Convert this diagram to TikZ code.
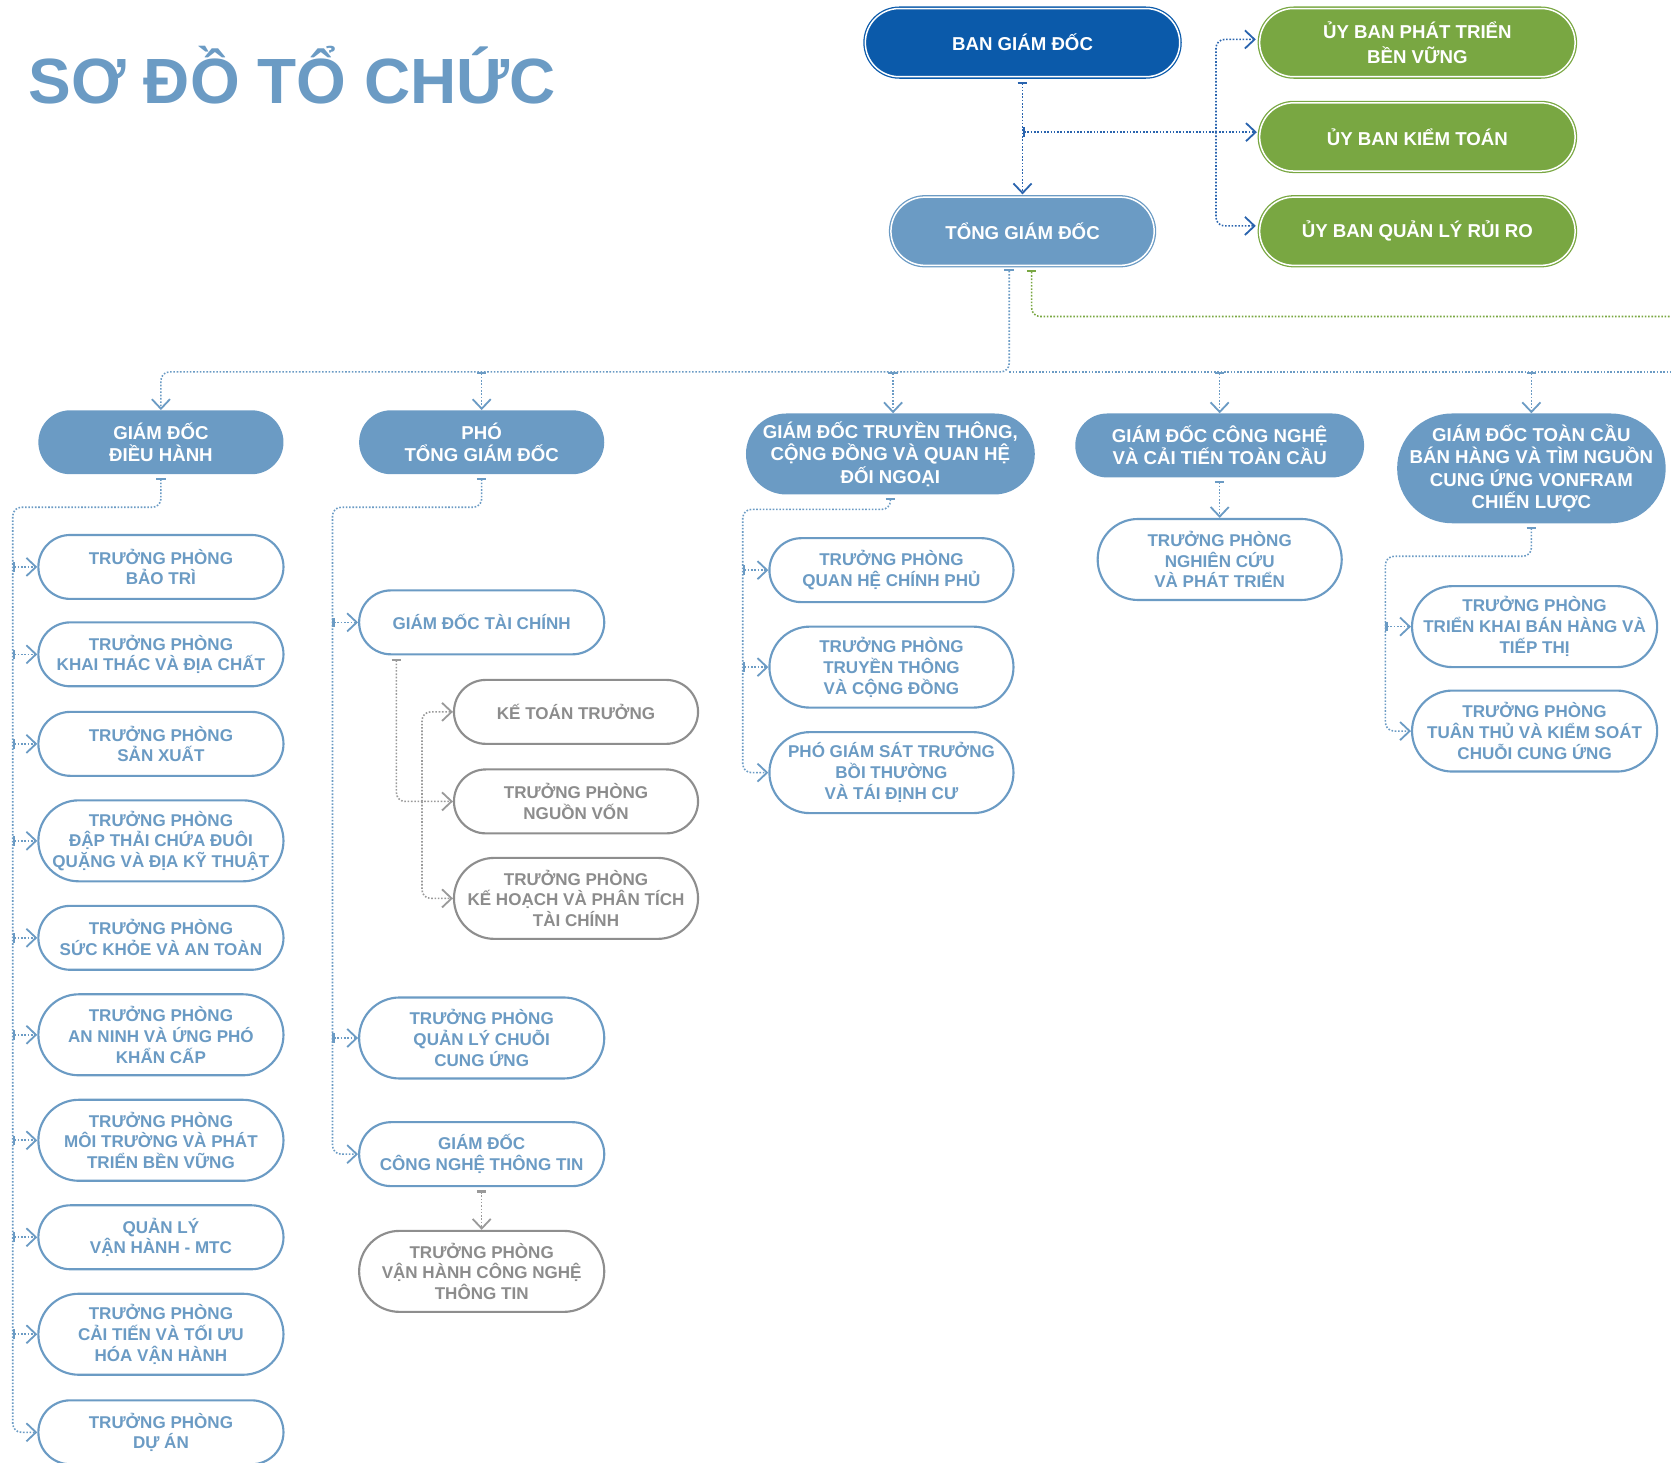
\documentclass[tikz,border=0pt]{standalone}
\usepackage{fontspec}
\setmainfont{Liberation Sans}
\usetikzlibrary{arrows.meta}
\definecolor{dblue}{HTML}{0B5AAA}
\definecolor{lblue}{HTML}{6B9BC4}
\definecolor{gfill}{HTML}{79A742}
\definecolor{gbox}{HTML}{8E8E8E}
\definecolor{gtext}{HTML}{8C8C8C}
\definecolor{cblue}{HTML}{2A64AE}
\definecolor{cgray}{HTML}{9A9A9A}
\newcommand\fbig{\fontsize{17.5}{21}\selectfont\bfseries}
\newcommand\fbigw{\fontsize{17.5}{24}\selectfont\bfseries}
\newcommand\fsmall{\fontsize{16}{19.5}\selectfont\bfseries}
\tikzset{
  base/.style={rectangle, inner sep=0pt, align=center},
  h60/.style={minimum height=60pt, rounded corners=29.9pt},
  h64/.style={minimum height=64pt, rounded corners=31.9pt},
  h76/.style={minimum height=76pt, rounded corners=37.9pt},
  h103/.style={minimum height=103pt, rounded corners=51.4pt},
  topbox/.style={base, draw=#1, fill=#1, line width=1.2pt, double=white, double distance=1.4pt, text=white, font=\fbig},
  filled/.style={base, fill=lblue, text=white, font=\fbig},
  outl/.style={base, draw=lblue, line width=2pt, fill=white, text=lblue, font=\fsmall},
  grayb/.style={base, draw=gbox, line width=2pt, fill=white, text=gtext, font=\fsmall},
  dots/.style={line width=1.5pt, dash pattern=on 1.5pt off 1.6pt},
  tipend/.style={-{Straight Barb[length=9pt,width=17pt,line width=1.7pt]}},
  tipboth/.style={{Bar[width=9pt,line width=2pt]}-{Straight Barb[length=9pt,width=17pt,line width=1.7pt]}},
  conn/.style={dots, draw=lblue, tipboth, shorten <=3pt},
  plainl/.style={dots, draw=lblue},
  tconn/.style={dots, draw=cblue, tipboth, shorten <=4pt, shorten >=2pt},
  tconnb/.style={dots, draw=cblue, tipend, shorten >=3pt},
  gconn/.style={dots, draw=gfill, {Bar[width=9pt,line width=2pt]}-, shorten <=4pt},
  grconn/.style={dots, draw=cgray, tipboth, shorten <=3pt},
  grconnb/.style={dots, draw=cgray, tipend},
}
\begin{document}
\begin{tikzpicture}[x=1pt,y=-1pt]
\useasboundingbox (0,0) rectangle (1568,1372);

% title
\node[anchor=base west, inner sep=0pt, text=lblue, font=\fontsize{60}{70}\selectfont\bfseries] (title) at (27,97) {SƠ ĐỒ TỔ CHỨC};

% top level
\node[topbox=dblue, h64, minimum width=295pt] (bgd) at (959.5,40) {BAN GIÁM ĐỐC};
\node[topbox=lblue, h64, minimum width=247pt] (tgd) at (959.5,217) {TỔNG GIÁM ĐỐC};
\node[topbox=gfill, h64, minimum width=296pt, font=\fbigw] (ub1) at (1330,40) {ỦY BAN PHÁT TRIỂN\\BỀN VỮNG};
\node[topbox=gfill, h64, minimum width=296pt] (ub2) at (1330,128.5) {ỦY BAN KIỂM TOÁN};
\node[topbox=gfill, h64, minimum width=296pt] (ub3) at (1330,217) {ỦY BAN QUẢN LÝ RỦI RO};

% level 2
\node[filled, h60, minimum width=230pt] (gddh) at (151,415) {GIÁM ĐỐC\\ĐIỀU HÀNH};
\node[filled, h60, minimum width=230pt] (ptgd) at (452,415) {PHÓ\\TỔNG GIÁM ĐỐC};
\node[filled, h76, minimum width=271pt] (gdtt) at (835.5,426) {GIÁM ĐỐC TRUYỀN THÔNG,\\CỘNG ĐỒNG VÀ QUAN HỆ\\ĐỐI NGOẠI};
\node[filled, h60, minimum width=271pt] (gdcn) at (1144.5,418) {GIÁM ĐỐC CÔNG NGHỆ\\VÀ CẢI TIẾN TOÀN CẦU};
\node[filled, h103, minimum width=252pt] (gdtc) at (1437,439.5) {GIÁM ĐỐC TOÀN CẦU\\BÁN HÀNG VÀ TÌM NGUỒN\\CUNG ỨNG VONFRAM\\CHIẾN LƯỢC};

% column 1
\node[outl, h60, minimum width=230pt] (c1a) at (151,532) {TRƯỞNG PHÒNG\\BẢO TRÌ};
\node[outl, h60, minimum width=230pt] (c1b) at (151,614) {TRƯỞNG PHÒNG\\KHAI THÁC VÀ ĐỊA CHẤT};
\node[outl, h60, minimum width=230pt] (c1c) at (151,698) {TRƯỞNG PHÒNG\\SẢN XUẤT};
\node[outl, h76, minimum width=230pt] (c1d) at (151,789) {TRƯỞNG PHÒNG\\ĐẬP THẢI CHỨA ĐUÔI\\QUẶNG VÀ ĐỊA KỸ THUẬT};
\node[outl, h60, minimum width=230pt] (c1e) at (151,880) {TRƯỞNG PHÒNG\\SỨC KHỎE VÀ AN TOÀN};
\node[outl, h76, minimum width=230pt] (c1f) at (151,971) {TRƯỞNG PHÒNG\\AN NINH VÀ ỨNG PHÓ\\KHẨN CẤP};
\node[outl, h76, minimum width=230pt] (c1g) at (151,1070) {TRƯỞNG PHÒNG\\MÔI TRƯỜNG VÀ PHÁT\\TRIỂN BỀN VỮNG};
\node[outl, h60, minimum width=230pt] (c1h) at (151,1161) {QUẢN LÝ\\VẬN HÀNH - MTC};
\node[outl, h76, minimum width=230pt] (c1i) at (151,1252) {TRƯỞNG PHÒNG\\CẢI TIẾN VÀ TỐI ƯU\\HÓA VẬN HÀNH};
\node[outl, h60, minimum width=230pt] (c1j) at (151,1344) {TRƯỞNG PHÒNG\\DỰ ÁN};

% column 2
\node[outl, h60, minimum width=230pt] (gdtcf) at (452,584) {GIÁM ĐỐC TÀI CHÍNH};
\node[outl, h76, minimum width=230pt] (qlcu) at (452,974) {TRƯỞNG PHÒNG\\QUẢN LÝ CHUỖI\\CUNG ỨNG};
\node[outl, h60, minimum width=230pt] (gdcntt) at (452,1083) {GIÁM ĐỐC\\CÔNG NGHỆ THÔNG TIN};
\node[grayb, h76, minimum width=230pt] (vhcntt) at (452,1193) {TRƯỞNG PHÒNG\\VẬN HÀNH CÔNG NGHỆ\\THÔNG TIN};

% gray finance children
\node[grayb, h60, minimum width=229pt] (kt) at (540.5,668) {KẾ TOÁN TRƯỞNG};
\node[grayb, h60, minimum width=229pt] (nv) at (540.5,752) {TRƯỞNG PHÒNG\\NGUỒN VỐN};
\node[grayb, h76, minimum width=229pt] (khpt) at (540.5,843) {TRƯỞNG PHÒNG\\KẾ HOẠCH VÀ PHÂN TÍCH\\TÀI CHÍNH};

% column 3
\node[outl, h60, minimum width=229pt] (qhcp) at (836.5,535) {TRƯỞNG PHÒNG\\QUAN HỆ CHÍNH PHỦ};
\node[outl, h76, minimum width=229pt] (ttcd) at (836.5,626) {TRƯỞNG PHÒNG\\TRUYỀN THÔNG\\VÀ CỘNG ĐỒNG};
\node[outl, h76, minimum width=229pt] (pgs) at (836.5,725) {PHÓ GIÁM SÁT TRƯỞNG\\BỒI THƯỜNG\\VÀ TÁI ĐỊNH CƯ};

% column 4
\node[outl, h76, minimum width=229pt] (nckt) at (1144.5,525) {TRƯỞNG PHÒNG\\NGHIÊN CỨU\\VÀ PHÁT TRIỂN};

% column 5
\node[outl, h76, minimum width=230pt] (tkbh) at (1440,588) {TRƯỞNG PHÒNG\\TRIỂN KHAI BÁN HÀNG VÀ\\TIẾP THỊ};
\node[outl, h76, minimum width=230pt] (ttks) at (1440,686) {TRƯỞNG PHÒNG\\TUÂN THỦ VÀ KIỂM SOÁT\\CHUỖI CUNG ỨNG};

% ---- connectors: top
\coordinate (j1) at (959.5,124);
\coordinate (j2) at (1141,124);
\draw[tconn] (bgd.south) -- (tgd.north);
\draw[tconn, shorten <=0pt] (j1) -- (j1 -| ub2.west);
\draw[tconnb, rounded corners=8pt] (j2) |- ([yshift=3pt]ub1.west);
\draw[tconnb, rounded corners=8pt] (j2) |- ([yshift=5pt]ub3.west);

% TGD to level 2
\coordinate (bus) at (947,349);
\coordinate (busend) at (1568,349);
\coordinate (gend) at (1568,297);
\draw[conn, rounded corners=8pt] ([xshift=-12.5pt]tgd.south) -- (bus) -| (gddh.north);
\draw[plainl] (bus) -- (busend);
\draw[conn, shorten <=0pt] (ptgd.north |- bus) -- (ptgd.north);
\draw[conn, shorten <=0pt] ([xshift=2.5pt]gdtt.north |- bus) -- ([xshift=2.5pt]gdtt.north);
\draw[conn, shorten <=0pt] (gdcn.north |- bus) -- (gdcn.north);
\draw[conn, shorten <=0pt] (gdtc.north |- bus) -- (gdtc.north);
\draw[gconn, rounded corners=8pt] ([xshift=8.5pt]tgd.south) |- (gend);

% column 1
\coordinate (s1) at (12,476);
\draw[conn, rounded corners=8pt] (gddh.south) |- (s1) |- (c1j.west);
\foreach \n in {c1a,c1b,c1c,c1d,c1e,c1f,c1g,c1h,c1i}
  \draw[conn, shorten <=0pt] (\n.west -| s1) -- (\n.west);

% column 2
\coordinate (s2) at (312,476);
\draw[conn, rounded corners=8pt] (ptgd.south) |- (s2) |- (gdcntt.west);
\foreach \n in {gdtcf,qlcu}
  \draw[conn, shorten <=0pt] (\n.west -| s2) -- (\n.west);
\draw[grconn] (gdcntt.south) -- (vhcntt.north);

% finance children
\coordinate (s3) at (396,752);
\draw[grconn, rounded corners=8pt] ([xshift=-80pt]gdtcf.south) |- (nv.west);
\draw[grconnb, rounded corners=8pt] (s3) |- (kt.west);
\draw[grconnb, rounded corners=8pt] (s3) |- (khpt.west);

% column 3
\coordinate (s4) at (697,478);
\draw[conn, rounded corners=8pt] (gdtt.south) |- (s4) |- (pgs.west);
\foreach \n in {qhcp,ttcd}
  \draw[conn, shorten <=0pt] (\n.west -| s4) -- (\n.west);

% column 4
\draw[conn] (gdcn.south) -- (nckt.north);

% column 5
\coordinate (s5) at (1300,522);
\draw[conn, rounded corners=8pt] (gdtc.south) |- (s5) |- (ttks.west);
\draw[conn, shorten <=0pt] (tkbh.west -| s5) -- (tkbh.west);
\end{tikzpicture}
\end{document}
